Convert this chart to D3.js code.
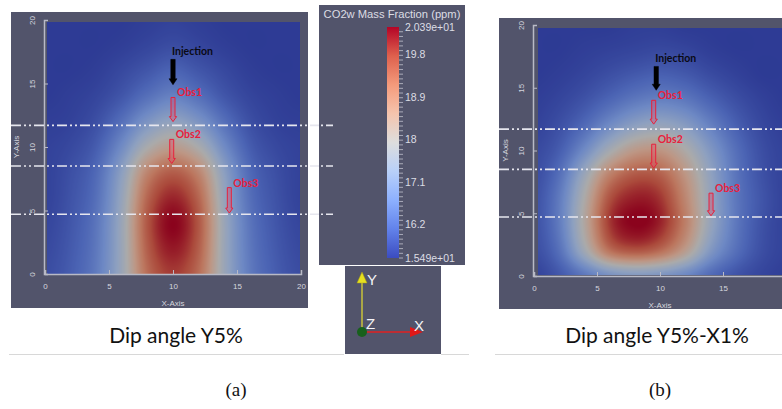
<!DOCTYPE html>
<html>
<head>
<meta charset="utf-8">
<script src="https://cdn.jsdelivr.net/npm/d3@7/dist/d3.min.js"></script>
<style>
	body { margin: 0; background: #fff; }
	svg { display: block; }
</style>
</head>
<body>
<svg id="fig" width="782" height="409"></svg>
<script>
'use strict';

// grid nodes (data units), rows listed top (y=20) to bottom (y=0)
const GRID_X = [0, 2, 4, 6, 8, 10, 12, 14, 16, 18, 20];
const GRID_Y = [20, 18, 16, 14, 12, 10, 8, 6, 4, 2, 0];

// CO2w mass fraction (ppm), dip angle Y5%
const FIELD_A = [
	[15.50, 15.50, 15.50, 15.50, 15.55, 15.60, 15.55, 15.50, 15.50, 15.50, 15.50],
	[15.50, 15.50, 15.50, 15.55, 15.65, 15.75, 15.65, 15.55, 15.50, 15.50, 15.50],
	[15.50, 15.50, 15.55, 15.70, 15.90, 16.10, 15.90, 15.70, 15.55, 15.50, 15.50],
	[15.50, 15.55, 15.65, 15.90, 16.30, 16.60, 16.30, 15.90, 15.65, 15.55, 15.50],
	[15.55, 15.60, 15.80, 16.30, 17.00, 17.40, 17.00, 16.30, 15.80, 15.60, 15.55],
	[15.60, 15.70, 16.00, 16.80, 17.90, 18.40, 17.90, 16.80, 16.00, 15.70, 15.60],
	[15.60, 15.80, 16.20, 17.30, 18.90, 19.50, 18.90, 17.30, 16.20, 15.80, 15.60],
	[15.60, 15.85, 16.30, 17.50, 19.40, 20.10, 19.40, 17.50, 16.30, 15.85, 15.60],
	[15.65, 15.90, 16.40, 17.60, 19.60, 20.39, 19.60, 17.60, 16.40, 15.90, 15.65],
	[15.70, 15.95, 16.45, 17.60, 19.50, 20.20, 19.50, 17.60, 16.45, 15.95, 15.70],
	[15.75, 16.00, 16.50, 17.60, 19.30, 19.90, 19.30, 17.60, 16.50, 16.00, 15.75]
];

// CO2w mass fraction (ppm), dip angle Y5%-X1%
const FIELD_B = [
	[15.50, 15.50, 15.50, 15.50, 15.55, 15.55, 15.50, 15.50, 15.50, 15.50, 15.50],
	[15.50, 15.50, 15.55, 15.60, 15.65, 15.70, 15.65, 15.55, 15.50, 15.50, 15.50],
	[15.50, 15.55, 15.65, 15.80, 15.95, 16.05, 15.95, 15.75, 15.60, 15.50, 15.50],
	[15.55, 15.65, 15.85, 16.15, 16.45, 16.60, 16.45, 16.10, 15.80, 15.60, 15.50],
	[15.60, 15.80, 16.20, 16.80, 17.30, 17.50, 17.20, 16.60, 16.05, 15.70, 15.55],
	[15.70, 16.00, 16.80, 17.80, 18.50, 18.60, 18.00, 17.10, 16.30, 15.80, 15.60],
	[15.75, 16.30, 17.60, 19.00, 19.60, 19.50, 18.60, 17.40, 16.40, 15.85, 15.60],
	[15.80, 16.50, 18.00, 19.70, 20.20, 20.00, 18.90, 17.50, 16.45, 15.90, 15.60],
	[15.80, 16.50, 18.10, 19.90, 20.39, 20.10, 19.00, 17.50, 16.45, 15.85, 15.60],
	[15.75, 16.30, 17.70, 19.20, 19.60, 19.30, 18.40, 17.10, 16.30, 15.80, 15.60],
	[15.60, 15.90, 16.40, 16.90, 17.10, 17.00, 16.70, 16.20, 15.85, 15.65, 15.55]
];

const COLOR_MIN = 15.49;
const COLOR_MAX = 20.39;
// ParaView "Cool to Warm" stops
const CMAP_STOPS = [0, 0.125, 0.25, 0.375, 0.5, 0.625, 0.75, 0.875, 1];
const CMAP_COLORS = ["#3b4cc0", "#6282ea", "#8db0fe", "#b8d0f9", "#dddddd", "#f5c4ad", "#f49a7b", "#de604d", "#b40426"];

const CBAR_TICKS = [20.39, 19.8, 18.9, 18, 17.1, 16.2, 15.49];
const CBAR_LABELS = ["2.039e+01", "19.8", "18.9", "18", "17.1", "16.2", "1.549e+01"];
const AXIS_TICKS = [0, 5, 10, 15, 20];

const DIP_LINES = [11.7, 8.5, 4.7];

const WELLS_A = [
	{ name: "Injection", x: 10.0, top: 16.9, bottom: 14.9 },
	{ name: "Obs1", x: 10.0, top: 13.9, bottom: 12.0 },
	{ name: "Obs2", x: 9.9, top: 10.6, bottom: 8.7 },
	{ name: "Obs3", x: 14.4, top: 6.8, bottom: 4.8 }
];
const WELLS_B = [
	{ name: "Injection", x: 9.7, top: 16.7, bottom: 14.8 },
	{ name: "Obs1", x: 9.5, top: 14.0, bottom: 12.1 },
	{ name: "Obs2", x: 9.5, top: 10.5, bottom: 8.6 },
	{ name: "Obs3", x: 14.05, top: 6.6, bottom: 4.8 }
];

const CAPTIONS = ["Dip angle Y5%", "Dip angle Y5%-X1%"];
const SUBLABELS = ["(a)", "(b)"];

const PANEL_BG = "#52546b";
const AXIS_COL = "#b9bac6";
const HEAT_SHADE = 0.77;

const svg = d3.select("#fig");
svg.append("rect").attr("width", 782).attr("height", 409).attr("fill", "#fff");

const cmap = d3.scaleLinear()
	.domain(CMAP_STOPS.map(t => COLOR_MIN + t * (COLOR_MAX - COLOR_MIN)))
	.range(CMAP_COLORS)
	.interpolate(d3.interpolateRgb)
	.clamp(true);

// catmull-rom on the grid
function cubic(p0, p1, p2, p3, t) {
	return p1 + 0.5 * t * (p2 - p0 + t * (2 * p0 - 5 * p1 + 4 * p2 - p3 + t * (3 * (p1 - p2) + p3 - p0)));
}
function sample(field, x, y) {
	const nx = GRID_X.length, ny = GRID_Y.length;
	const fx = Math.max(0, Math.min(nx - 1.0001, x / 2));
	const fy = Math.max(0, Math.min(ny - 1.0001, (20 - y) / 2));
	const i = Math.floor(fx), j = Math.floor(fy);
	const tx = fx - i, ty = fy - j;
	const at = (r, c) => field[Math.max(0, Math.min(ny - 1, r))][Math.max(0, Math.min(nx - 1, c))];
	const rows = [];
	for (let r = j - 1; r <= j + 2; r++) {
		rows.push(cubic(at(r, i - 1), at(r, i), at(r, i + 1), at(r, i + 2), tx));
	}
	return cubic(rows[0], rows[1], rows[2], rows[3], ty);
}

function heatImage(field, xs, ys, rx, ry, rw, rh) {
	const canvas = document.createElement("canvas");
	canvas.width = rw;
	canvas.height = rh;
	const ctx = canvas.getContext("2d");
	const img = ctx.createImageData(rw, rh);
	for (let py = 0; py < rh; py++) {
		const dy = ys.invert(ry + py + 0.5);
		for (let px = 0; px < rw; px++) {
			const dx = xs.invert(rx + px + 0.5);
			const c = d3.rgb(cmap(sample(field, dx, dy)));
			const k = (py * rw + px) * 4;
			img.data[k] = c.r * HEAT_SHADE;
			img.data[k + 1] = c.g * HEAT_SHADE;
			img.data[k + 2] = c.b * HEAT_SHADE;
			img.data[k + 3] = 255;
		}
	}
	ctx.putImageData(img, 0, 0);
	return canvas.toDataURL();
}

function wellPath(x, y0, y1, hw, headW, headL) {
	return `M${x - hw},${y0} L${x + hw},${y0} L${x + hw},${y1 - headL} L${x + headW},${y1 - headL} ` +
		`L${x},${y1} L${x - headW},${y1 - headL} L${x - hw},${y1 - headL} Z`;
}

const panels = [
	{ field: FIELD_A, wells: WELLS_A, box: [11, 12, 297, 296], xr: [45, 301], yr: [274, 20],
		heat: [47, 22, 253, 252], dash: [11, 333], yLabX: 16, xLabY: 303 },
	{ field: FIELD_B, wells: WELLS_B, box: [499, 18, 300, 291], xr: [534, 786], yr: [276, 25],
		heat: [538, 28, 250, 247], dash: [499, 782], yLabX: 505, xLabY: 305 }
];

panels.forEach(p => {
	const g = svg.append("g");
	const xs = d3.scaleLinear().domain([0, 20]).range(p.xr);
	const ys = d3.scaleLinear().domain([0, 20]).range(p.yr);

	g.append("rect")
		.attr("x", p.box[0]).attr("y", p.box[1])
		.attr("width", p.box[2]).attr("height", p.box[3])
		.attr("fill", PANEL_BG);

	const [hx, hy, hw, hh] = p.heat;
	g.append("image")
		.attr("x", hx).attr("y", hy)
		.attr("width", hw).attr("height", hh)
		.attr("preserveAspectRatio", "none")
		.attr("href", heatImage(p.field, xs, ys, hx, hy, hw, hh));

	// axes
	const ax = g.append("g")
		.attr("transform", `translate(0,${p.yr[0]})`)
		.call(d3.axisBottom(xs).tickValues(AXIS_TICKS).tickSize(-4).tickPadding(9).tickFormat(d3.format("d")));
	const ay = g.append("g")
		.attr("transform", `translate(${p.xr[0] - 1},0)`)
		.call(d3.axisLeft(ys).tickValues(AXIS_TICKS).tickSize(-4).tickPadding(12).tickFormat(d3.format("d")));
	[ax, ay].forEach(a => {
		a.select(".domain").attr("stroke", AXIS_COL).attr("stroke-width", 1.5);
		a.selectAll(".tick line").attr("stroke", AXIS_COL);
		a.selectAll("text")
			.attr("fill", "#d6d7df")
			.attr("font-family", "Liberation Sans, Arial, sans-serif")
			.attr("font-size", 8);
	});
	ay.selectAll("text")
		.attr("x", null).attr("dy", "0.35em")
		.attr("text-anchor", "middle")
		.attr("transform", "translate(-12,0) rotate(-90)");

	g.append("text")
		.attr("x", xs(10)).attr("y", p.xLabY)
		.attr("text-anchor", "middle").attr("dy", "0.35em")
		.attr("fill", "#d6d7df")
		.attr("font-family", "Liberation Sans, Arial, sans-serif")
		.attr("font-size", 8)
		.text("X-Axis");
	g.append("text")
		.attr("transform", `translate(${p.yLabX},${ys(10)}) rotate(-90)`)
		.attr("text-anchor", "middle").attr("dy", "0.35em")
		.attr("fill", "#d6d7df")
		.attr("font-family", "Liberation Sans, Arial, sans-serif")
		.attr("font-size", 8)
		.text("Y-Axis");

	// dip reference lines
	g.selectAll("line.dip")
		.data(DIP_LINES)
		.join("line")
		.attr("class", "dip")
		.attr("x1", p.dash[0]).attr("x2", p.dash[1])
		.attr("y1", d => ys(d)).attr("y2", d => ys(d))
		.attr("stroke", "#e6e6ee")
		.attr("stroke-width", 1.6)
		.attr("stroke-dasharray", "10,3,2,3,2,3");

	// wells
	const wg = g.selectAll("g.well")
		.data(p.wells)
		.join("g")
		.attr("class", "well");
	wg.append("path")
		.attr("d", d => d.name === "Injection"
			? wellPath(xs(d.x), ys(d.top), ys(d.bottom), 2.2, 4, 6)
			: wellPath(xs(d.x), ys(d.top), ys(d.bottom), 2, 3.6, 5))
		.attr("fill", d => d.name === "Injection" ? "#000" : "rgba(235,70,100,0.35)")
		.attr("stroke", d => d.name === "Injection" ? "#000" : "#e8203c")
		.attr("stroke-width", d => d.name === "Injection" ? 0.5 : 1);
	wg.append("text")
		.attr("x", d => d.name === "Injection" ? xs(d.x) - 1 : xs(d.x) + 4)
		.attr("y", d => ys(d.top) - (d.name === "Injection" ? 4 : 1))
		.attr("fill", d => d.name === "Injection" ? "#0a0a14" : "#e8203c")
		.attr("font-family", "Lato, Open Sans, sans-serif")
		.attr("font-weight", "bold")
		.attr("font-size", 10.5)
		.text(d => d.name);
});

// colorbar panel
const cb = svg.append("g");
cb.append("rect").attr("x", 319).attr("y", 5).attr("width", 146).attr("height", 260).attr("fill", PANEL_BG);
// dip line stubs of panel (a) showing on the colorbar panel
const ysA = d3.scaleLinear().domain([0, 20]).range([274, 20]);
cb.selectAll("line.stub")
	.data(DIP_LINES)
	.join("line")
	.attr("class", "stub")
	.attr("x1", 319).attr("x2", 333)
	.attr("y1", d => ysA(d)).attr("y2", d => ysA(d))
	.attr("stroke", "#e6e6ee").attr("stroke-width", 1.6)
	.attr("stroke-dasharray", "0,2,2,3,10,3");

cb.append("text")
	.attr("x", 392).attr("y", 14)
	.attr("text-anchor", "middle").attr("dy", "0.35em")
	.attr("fill", "#dcdde4")
	.attr("font-family", "Liberation Sans, Arial, sans-serif")
	.attr("font-size", 11.2)
	.text("CO2w Mass Fraction (ppm)");

const cs = d3.scaleLinear().domain([COLOR_MIN, COLOR_MAX]).range([258, 27]);
const defs = svg.append("defs");
const grad = defs.append("linearGradient")
	.attr("id", "cbar").attr("x1", 0).attr("y1", 1).attr("x2", 0).attr("y2", 0);
grad.selectAll("stop")
	.data(CMAP_STOPS)
	.join("stop")
	.attr("offset", d => d)
	.attr("stop-color", (d, i) => CMAP_COLORS[i]);
cb.append("rect")
	.attr("x", 387).attr("y", cs(COLOR_MAX))
	.attr("width", 12).attr("height", cs(COLOR_MIN) - cs(COLOR_MAX))
	.attr("fill", "url(#cbar)");

const minor = d3.range(155, 204).map(v => v / 10);
cb.selectAll("line.minor")
	.data(minor)
	.join("line")
	.attr("class", "minor")
	.attr("x1", 399).attr("x2", 403)
	.attr("y1", d => cs(d) + 0.5).attr("y2", d => cs(d) + 0.5)
	.attr("stroke", "#a9aab8").attr("stroke-width", 1);

cb.selectAll("text.cbl")
	.data(CBAR_TICKS)
	.join("text")
	.attr("class", "cbl")
	.attr("x", 405).attr("y", d => cs(d))
	.attr("dy", "0.35em")
	.attr("fill", "#dcdde4")
	.attr("font-family", "Liberation Sans, Arial, sans-serif")
	.attr("font-size", 10.5)
	.text((d, i) => CBAR_LABELS[i]);

// orientation triad
const tr = svg.append("g");
tr.append("rect").attr("x", 345).attr("y", 266).attr("width", 96).attr("height", 88).attr("fill", PANEL_BG);
tr.append("line").attr("x1", 362).attr("x2", 362).attr("y1", 331).attr("y2", 280)
	.attr("stroke", "#c8c23a").attr("stroke-width", 1.5);
tr.append("path").attr("d", "M362,272 L367,283 L357,283 Z").attr("fill", "#e6e020").attr("stroke", "#a8a010").attr("stroke-width", 0.5);
tr.append("line").attr("x1", 362).attr("x2", 412).attr("y1", 332).attr("y2", 332)
	.attr("stroke", "#e02020").attr("stroke-width", 1.5);
tr.append("path").attr("d", "M423,332 L410,327 L410,337 Z").attr("fill", "#e01818");
tr.append("circle").attr("cx", 362).attr("cy", 332).attr("r", 5).attr("fill", "#17601c");
tr.selectAll("text")
	.data([["Y", 367, 285], ["Z", 366, 329], ["X", 414, 331]])
	.join("text")
	.attr("x", d => d[1]).attr("y", d => d[2])
	.attr("fill", "#f4f4f8")
	.attr("font-family", "Liberation Sans, Arial, sans-serif")
	.attr("font-size", 15)
	.text(d => d[0]);

// captions
const capX = [176, 657];
svg.selectAll("text.cap")
	.data(CAPTIONS)
	.join("text")
	.attr("class", "cap")
	.attr("x", (d, i) => capX[i]).attr("y", 343)
	.attr("text-anchor", "middle")
	.attr("fill", "#111")
	.attr("font-family", "Lato, Open Sans, sans-serif")
	.attr("font-size", 21)
	.text(d => d);
svg.selectAll("line.sep")
	.data([[9, 344], [441, 469], [495, 782]])
	.join("line")
	.attr("class", "sep")
	.attr("x1", d => d[0]).attr("x2", d => d[1])
	.attr("y1", 354.5).attr("y2", 354.5)
	.attr("stroke", "#d8d8d8").attr("stroke-width", 1);

const subX = [236, 660];
svg.selectAll("text.sub")
	.data(SUBLABELS)
	.join("text")
	.attr("class", "sub")
	.attr("x", (d, i) => subX[i]).attr("y", 396)
	.attr("text-anchor", "middle")
	.attr("fill", "#111")
	.attr("font-family", "Liberation Serif, Times New Roman, serif")
	.attr("font-size", 19)
	.text(d => d);
</script>
</body>
</html>
